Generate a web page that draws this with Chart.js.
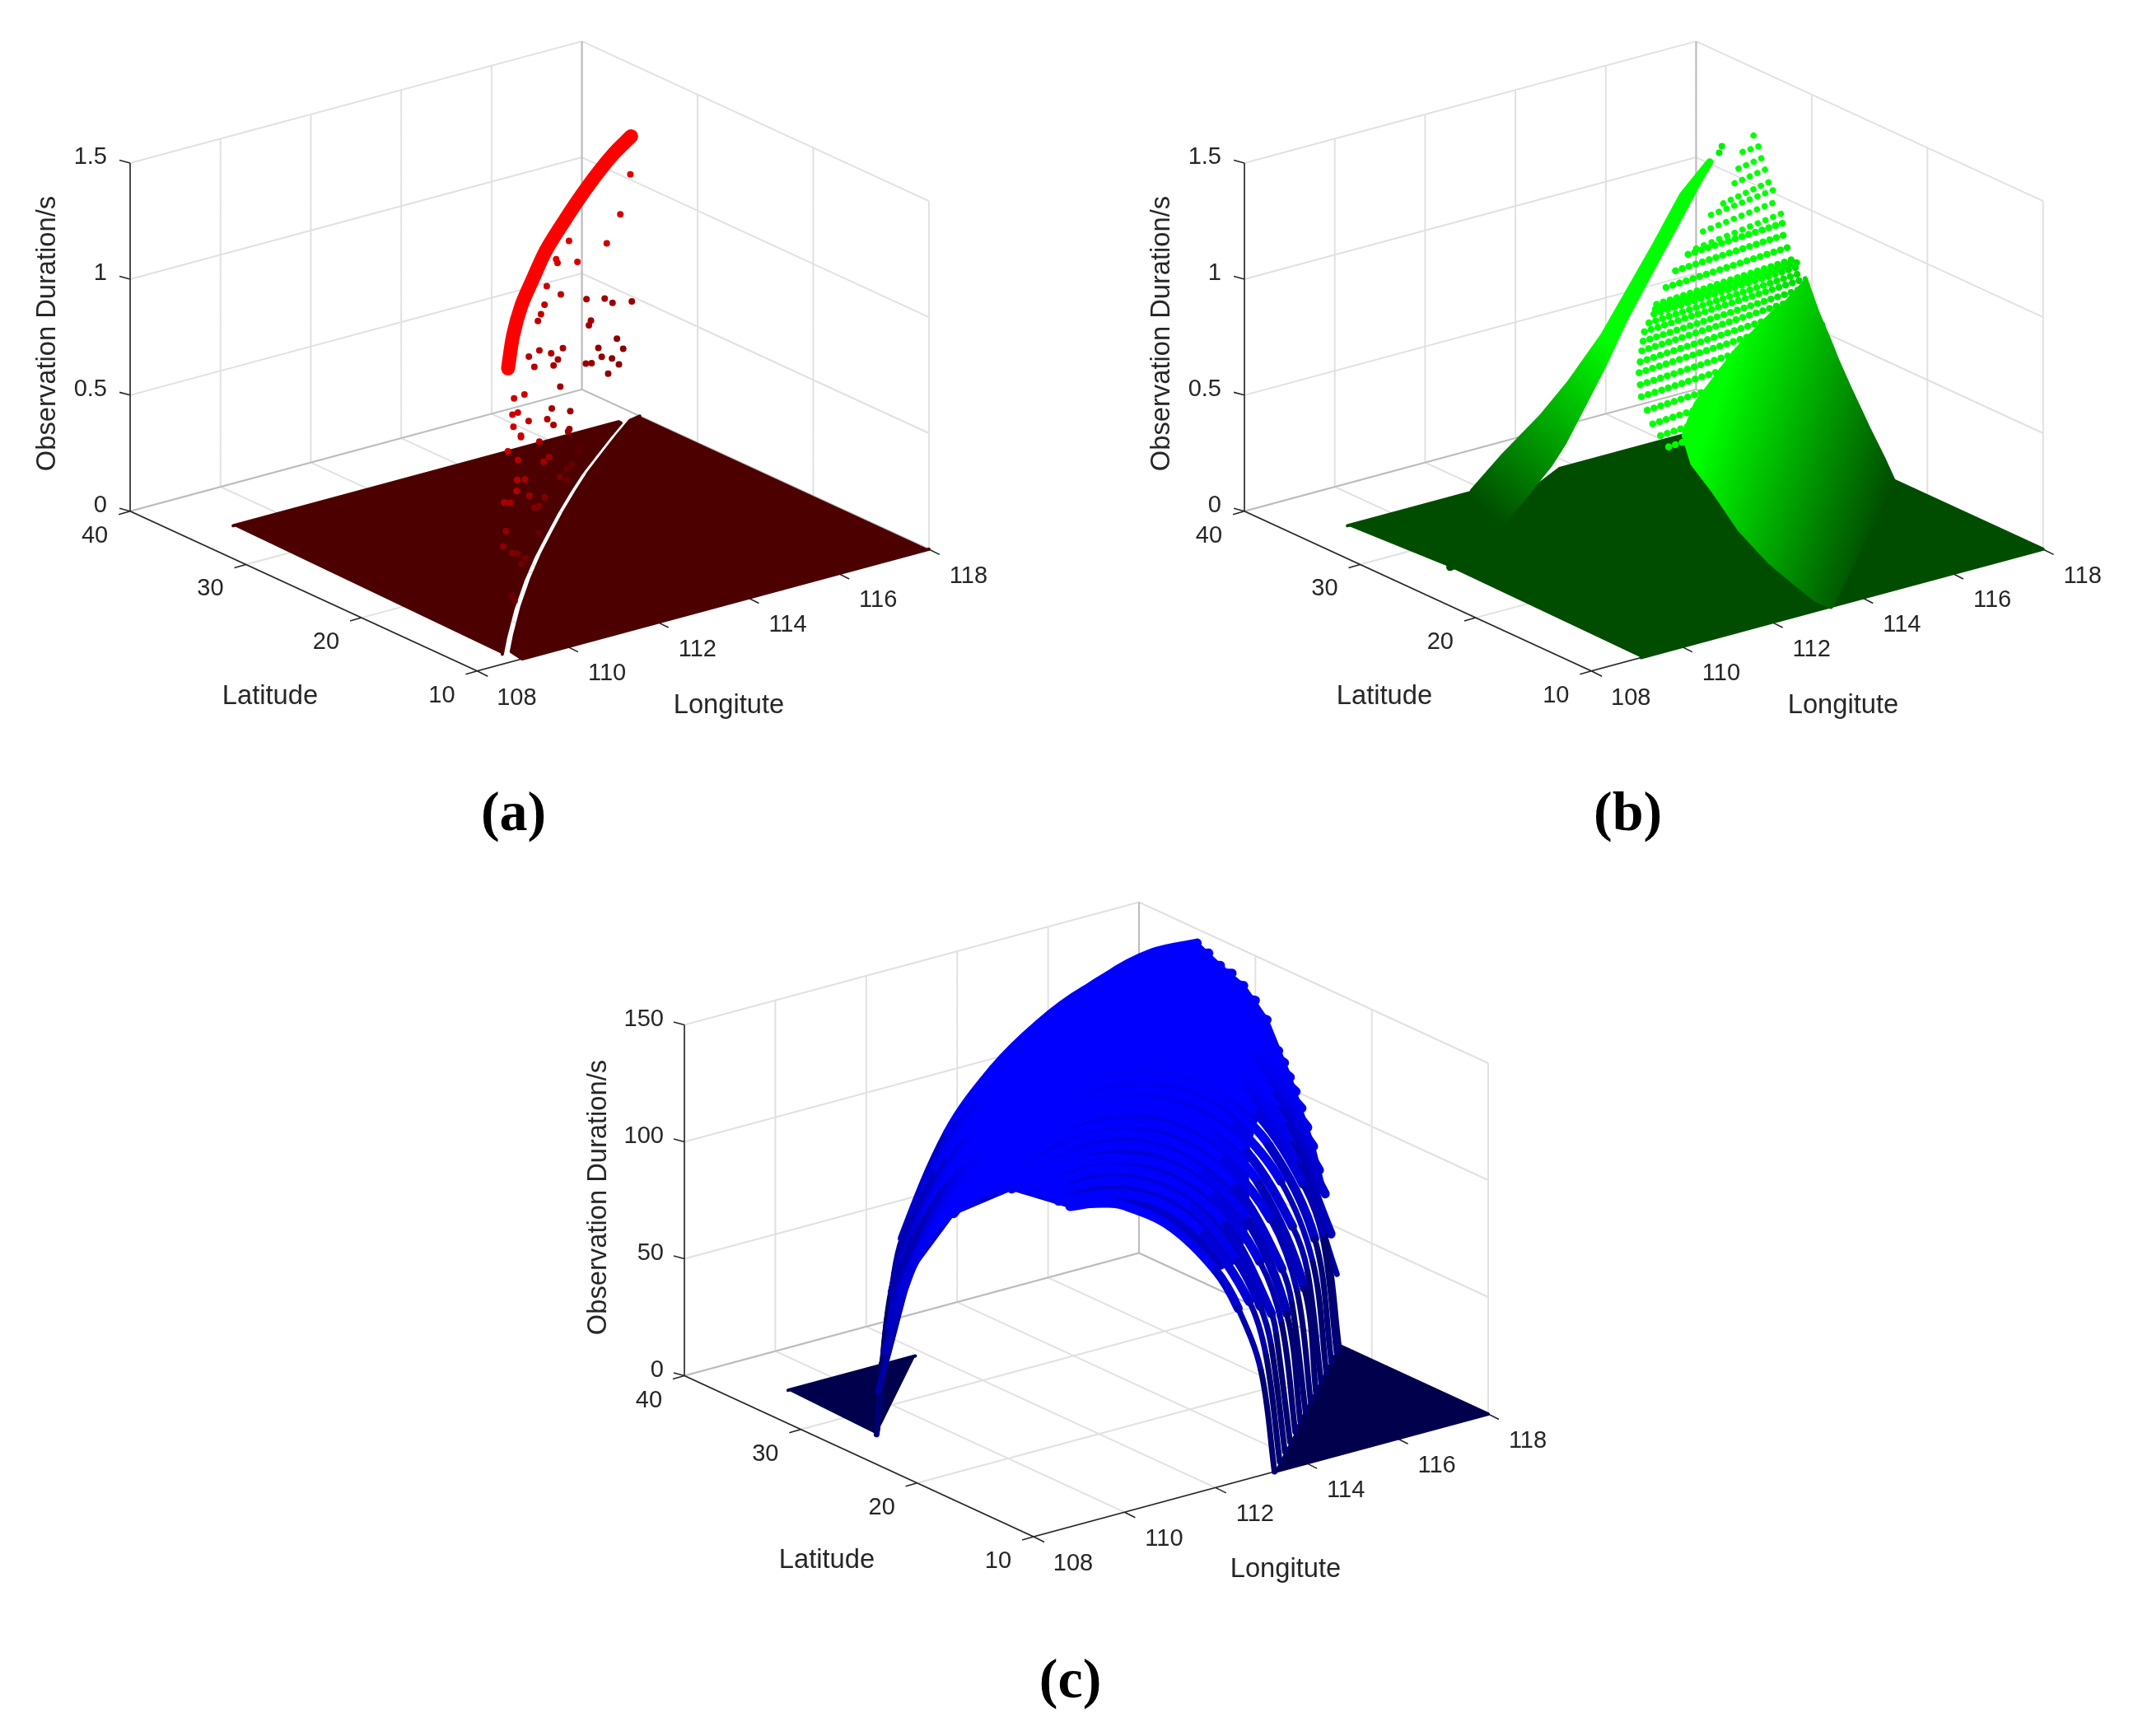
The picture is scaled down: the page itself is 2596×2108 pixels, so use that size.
<!DOCTYPE html>
<html>
<head>
<meta charset="utf-8">
<title>Observation duration</title>
<script src="https://cdn.jsdelivr.net/npm/chart.js@4/dist/chart.umd.js"></script>
<style>
  html, body { margin: 0; background: #fff; }
  canvas { position: absolute; display: block; }
</style>
</head>
<body>
<canvas id="panel-a" width="1280" height="1050" style="left:0;top:0"></canvas>
<canvas id="panel-b" width="1243" height="1050" style="left:1353px;top:0"></canvas>
<canvas id="panel-c" width="1280" height="1059" style="left:676px;top:1049px"></canvas>
<script>
// ======== Axes ========
const lonTicks = [108, 110, 112, 114, 116, 118];
const latTicks = [10, 20, 30, 40];
const shortDurTicks = [0, 0.5, 1, 1.5];
const longDurTicks = [0, 50, 100, 150];

// ======== Panel (a) ========
const aFloorLeftLon = [109, 117.53, 117.53, 116.91, 116.17, 115.43, 114.69, 113.9, 113.1, 112.27, 111.38, 110.37, 109.4, 108.86];
const aFloorLeftLat = [35, 35, 34.79, 33.44, 31.76, 30.07, 28.23, 26.2, 24.06, 21.81, 19.25, 16.17, 13.02, 11.19];
const aFloorRightLon = [118, 117.73, 117.11, 116.37, 115.63, 114.89, 114.1, 113.3, 112.47, 111.58, 110.57, 109.6, 109.06, 109.0, 118];
const aFloorRightLat = [35, 34.79, 33.44, 31.76, 30.07, 28.23, 26.2, 24.06, 21.81, 19.25, 16.17, 13.02, 11.19, 10, 10];
const aArcLon = [108.95, 110.01, 111.05, 112.03, 113.05, 114.1, 115.07, 116.16, 116.98, 117.71];
const aArcLat = [11.04, 14.75, 18.08, 20.9, 23.78, 26.44, 28.83, 31.39, 33.19, 34.61];
const aArcDur = [1.23, 1.23, 1.23, 1.23, 1.23, 1.23, 1.23, 1.23, 1.23, 1.23];
const aDotLon = [117.81, 116.95, 116.44, 115.43, 114.69, 114.6, 114.91, 114.38, 114.96, 116.44, 116.85, 117.18, 117.85, 114.42, 114.08, 113.83, 115.99, 115.82, 116.86, 115.97, 116.64, 114.41, 113.31, 113.74, 112.98, 115.75, 116.19, 114, 112.74, 113.76, 114.97, 115.06, 116.11, 115.68, 113.56, 110.78, 110.52, 112.43, 113.31, 110.14, 110, 110.67, 111.69, 111.95, 109.65, 112.75, 109.48, 109.72, 110.9, 112.66, 109.11, 109.69, 111.05, 111.62, 115.42, 114.32, 114.11, 113.14, 113.78, 109.43, 110.11, 109.08, 110.31, 111.67, 108.92, 109.2, 111.22, 111.33, 109.12, 111.78, 108.97, 109.54, 110, 110.34, 110.11, 109.22, 109.24];
const aDotLat = [35.07, 32.58, 31.76, 31.08, 29.3, 28.83, 28.32, 28.9, 29.95, 33.51, 33.54, 34.15, 35.1, 29.25, 28.23, 27.52, 31.37, 30.88, 32.52, 30.65, 31.12, 27.62, 25.36, 26.02, 24.98, 29.5, 30.33, 26.45, 23.57, 25.89, 27.82, 27.68, 29.42, 28.67, 24.53, 16.77, 16.65, 20.85, 22.69, 14.84, 14.76, 15.98, 18.35, 18.83, 13.31, 20.58, 12, 12.93, 15.95, 20.34, 11.68, 13.07, 16.16, 17.91, 30.19, 26.5, 26.13, 22.94, 24.81, 12.12, 14.11, 10.8, 14.51, 18.5, 11.25, 11.84, 17.63, 17.67, 11.89, 19.45, 11.54, 12.98, 14.35, 14.97, 14.4, 11.78, 11.61];
const aDotDur = [1.05, 0.98, 0.9, 0.98, 0.98, 0.98, 0.98, 0.89, 0.8, 0.62, 0.6, 0.55, 0.5, 0.8, 0.8, 0.8, 0.6, 0.6, 0.45, 0.5, 0.45, 0.65, 0.75, 0.7, 0.75, 0.5, 0.45, 0.65, 0.75, 0.65, 0.55, 0.55, 0.45, 0.45, 0.6, 0.89, 0.89, 0.65, 0.55, 0.89, 0.89, 0.8, 0.7, 0.65, 0.89, 0.55, 0.89, 0.85, 0.7, 0.55, 0.85, 0.75, 0.6, 0.55, 0.1, 0.18, 0.18, 0.27, 0.18, 0.7, 0.62, 0.7, 0.53, 0.36, 0.65, 0.62, 0.36, 0.36, 0.5, 0.18, 0.45, 0.36, 0.3, 0.25, 0.25, 0.22, 0.2];

// ======== Panel (b) ========
const bFloorLeftLon = [109, 111.79, 109.17];
const bFloorLeftLat = [35, 35, 26.8];
const bFloorMidLon = [109.17, 109.54, 110.98, 112.35, 113.7, 116.45, 115.71, 115.18, 114.38, 113.81, 113.51, 113.3, 113.3, 109.1];
const bFloorMidLat = [26.8, 27.05, 29.87, 32.88, 35, 35, 31.34, 27.5, 22.11, 17.27, 13.81, 11.2, 10, 10];
const bFloorRightLon = [113.3, 118, 118];
const bFloorRightLat = [10, 10, 23];
const bRidgeLon = [111.79, 112.45, 113.33, 113.93, 114.66, 115.25, 115.84, 116.43, 117.02, 116.29, 115.77, 115.18, 114.6, 114.15, 113.71, 113.27, 112.96, 112.35, 110.98, 109.54, 109.17];
const bRidgeLat = [35, 35, 35, 35, 35, 35, 35, 35, 35, 33, 33, 33, 33, 33, 33, 33, 33, 32.88, 29.87, 27.05, 26.8];
const bRidgeDur = [0, 0.112, 0.243, 0.353, 0.515, 0.684, 0.854, 1.035, 1.146, 1.16, 0.998, 0.817, 0.635, 0.47, 0.327, 0.185, 0.106, 0, 0, 0, 0];
const bHumpLon = [118, 118, 118, 118, 118, 118, 118, 118, 118, 113.3, 113.3, 113.51, 113.81, 114.38, 115.18, 115.71, 116.45, 115.44, 116.35, 117.25];
const bHumpLat = [30.57, 30.09, 29.5, 28.68, 27.74, 26.79, 25.14, 23.85, 23, 10, 11.2, 13.81, 17.27, 22.11, 27.5, 31.34, 35, 30, 30, 30];
const bHumpDur = [0.694, 0.635, 0.567, 0.491, 0.396, 0.312, 0.174, 0.074, 0, 0, 0, 0, 0, 0, 0, 0, 0, 0.302, 0.489, 0.618];
const bRowLat = [34.57, 34.57, 34.15, 33.75, 33.4, 33.28, 32.92, 32.5, 32.34, 31.98, 31.63, 31.27, 31.15, 31.03, 30.8, 30.57, 30.33, 30.09, 29.8, 29.5, 29.09, 28.68, 28.21, 27.74, 27.26, 26.79];
const bRowLonStart = [117.88, 117.64, 117.44, 117.25, 116.91, 116.61, 116.34, 116.08, 115.86, 115.49, 115.19, 114.89, 114.83, 114.77, 114.6, 114.44, 114.35, 114.26, 114.15, 114.05, 113.97, 113.89, 113.9, 113.9, 113.95, 114.01];
const bRowDurStart = [1.225, 1.167, 1.115, 1.071, 1.01, 0.979, 0.93, 0.88, 0.87, 0.827, 0.779, 0.73, 0.715, 0.7, 0.676, 0.652, 0.621, 0.59, 0.555, 0.52, 0.482, 0.444, 0.396, 0.348, 0.306, 0.265];
const bRowDurEnd = [1.201, 1.172, 1.135, 1.097, 1.052, 1.014, 0.975, 0.932, 0.895, 0.856, 0.811, 0.767, 0.752, 0.737, 0.715, 0.694, 0.664, 0.635, 0.601, 0.567, 0.529, 0.491, 0.443, 0.396, 0.354, 0.312];
const bDotLon = [117.29, 117.23];
const bDotLat = [35, 35];
const bDotDur = [1.2, 1.175];

// ======== Panel (c) ========
const cFloorLeftLon = [109, 111.05, 108.9];
const cFloorLeftLat = [35, 35, 27];
const cFloorRightLon = [113.3, 118, 118, 117, 116.26, 114.78];
const cFloorRightLat = [10, 10, 22.7, 20, 18, 14];
const cWedgeLon = [108.9, 111.05, 111.8];
const cWedgeLat = [27, 35, 35];
const cBaseLon = [112, 113, 114, 115, 116, 117, 118, 118, 118, 118, 118, 118, 118, 116, 115, 114, 113, 112, 111, 110, 108.8, 108.8, 108.8, 108.8, 108.8];
const cBaseLat = [35, 35, 35, 35, 35, 35, 35, 33, 31, 29, 27, 25, 24, 22, 19, 15, 12, 10, 10, 10, 10, 15, 20, 24, 25];
const cBaseDur = [60, 88, 112, 128, 140, 145, 144, 139, 135, 125, 105, 80, 62, 111, 107, 92, 87, 93, 117, 131, 137, 133, 111, 75, 60];
const cRowLat = [35, 34, 33, 32, 31, 30, 29, 28, 27.5, 27, 26.5, 26, 25.5, 25, 24.5, 24, 23.5, 23, 22.5, 22, 21, 20, 19, 18, 17, 16, 15, 14, 13, 12, 11, 10];
const cRowLon = [
  [111.05, 111.5, 112, 113, 114, 115, 116, 117, 118],
  [110.79, 111.09, 112, 113, 114, 115, 116, 117, 118],
  [110.52, 110.82, 111, 112, 113, 114, 115, 116, 117, 118],
  [110.25, 110.55, 111, 112, 113, 114, 115, 116, 117, 118],
  [109.98, 110.28, 111, 112, 113, 114, 115, 116, 117, 118],
  [109.71, 110.01, 111, 112, 113, 114, 115, 116, 117, 118],
  [109.44, 109.74, 110, 111, 112, 113, 114, 115, 116, 117, 118],
  [109.17, 109.47, 110, 111, 112, 113, 114, 115, 116, 117, 118],
  [109.04, 109.34, 110, 111, 112, 113, 114, 115, 116, 117, 118],
  [108.9, 109.2, 110, 111, 112, 113, 114, 115, 116, 117, 118],
  [108.8, 110, 111, 112, 113, 114, 115, 116, 117, 118],
  [108.8, 110, 111, 112, 113, 114, 115, 116, 117, 118],
  [108.8, 110, 111, 112, 113, 114, 115, 116, 117, 118],
  [108.8, 110, 111, 112, 113, 114, 115, 116, 117, 118],
  [108.8, 110, 111, 112, 113, 114, 115, 116, 117, 118],
  [108.8, 110, 111, 112, 113, 114, 115, 116, 117, 118],
  [108.8, 110, 111, 112, 113, 114, 115, 116, 117, 118],
  [108.8, 110, 111, 112, 113, 114, 115, 116, 117, 118],
  [108.8, 110, 111, 112, 113, 114, 115, 116, 117, 117.6, 117.92],
  [108.8, 110, 111, 112, 113, 114, 115, 116, 117, 117.44, 117.74],
  [108.8, 110, 111, 112, 113, 114, 115, 116, 117, 117.37],
  [108.8, 110, 111, 112, 113, 114, 115, 116, 116.7, 117],
  [108.8, 110, 111, 112, 113, 114, 115, 116, 116.33, 116.63],
  [108.8, 110, 111, 112, 113, 114, 115, 116, 116.26],
  [108.8, 110, 111, 112, 113, 114, 115, 115.59, 115.89],
  [108.8, 110, 111, 112, 113, 114, 115, 115.22, 115.52],
  [108.8, 110, 111, 112, 113, 114, 114.85, 115.15],
  [108.8, 110, 111, 112, 113, 114, 114.48, 114.78],
  [108.8, 110, 111, 112, 113, 114, 114.11, 114.41],
  [108.8, 110, 111, 112, 113, 113.5, 113.74, 114.04],
  [108.8, 110, 111, 112, 113, 113.37, 113.67],
  [108.8, 109.5, 110, 111, 112, 112.5, 113, 113.3]
];
const cRowDur = [
  [0, 30, 60, 88, 112, 128, 140, 145, 144],
  [0, 40, 78, 106, 126, 138, 145, 146, 142],
  [0, 45, 59, 99, 121, 135, 144, 147, 145, 139],
  [0, 46, 73, 106, 126, 139, 145, 147, 144, 138],
  [0, 47, 85, 114, 131, 141, 146, 147, 142, 135],
  [0, 48, 95, 120, 135, 143, 147, 145, 139, 131],
  [0, 48, 65, 103, 125, 138, 145, 147, 144, 136, 125],
  [0, 48, 78, 110, 129, 141, 146, 147, 142, 131, 114],
  [0, 48, 84, 114, 131, 142, 147, 147, 141, 129, 110],
  [0, 48, 89, 117, 133, 143, 147, 146, 139, 126, 105],
  [20, 94, 120, 135, 144, 147, 145, 137, 123, 100],
  [38, 99, 123, 137, 145, 147, 144, 135, 120, 94],
  [50, 103, 126, 139, 146, 147, 143, 133, 116, 87],
  [60, 107, 128, 140, 146, 147, 142, 131, 112, 80],
  [68, 110, 130, 141, 147, 147, 141, 128, 108, 71],
  [75, 114, 132, 142, 147, 146, 139, 125, 103, 62],
  [81, 117, 134, 143, 147, 145, 137, 122, 97, 46],
  [87, 120, 136, 144, 147, 144, 135, 119, 91, 30],
  [92, 123, 138, 145, 147, 143, 133, 115, 84, 50, 0],
  [97, 126, 139, 146, 147, 142, 130, 111, 76, 50, 0],
  [105, 130, 141, 146, 145, 138, 124, 100, 55, 0],
  [111, 133, 142, 145, 142, 133, 116, 87, 49, 0],
  [117, 135, 143, 144, 139, 127, 107, 70, 49, 0],
  [123, 138, 144, 143, 136, 121, 96, 46, 0],
  [127, 140, 143, 140, 131, 113, 83, 49, 0],
  [130, 140, 142, 137, 125, 104, 64, 48, 0],
  [133, 140, 140, 133, 118, 92, 48, 0],
  [135, 140, 137, 128, 110, 77, 48, 0],
  [136, 139, 134, 122, 100, 57, 47, 0],
  [137, 137, 130, 115, 87, 65, 47, 0],
  [137, 134, 125, 106, 72, 47, 0],
  [137, 135, 131, 117, 93, 74, 45, 0]
];

// ======== Projection ========
// MATLAB view of the box, in canvas pixels: corner lon 108 / lat 10 / duration 0 and the three box edges
const corner = { x: 579, y: 817 };
const lonEdge = { x: 552, y: -149 };
const latEdge = { x: -424, y: -195.5 };
const durEdge = 426;

function project(lon, lat, dur, durMax) {
  const a = (lon - 108) / 10;
  const b = (lat - 10) / 30;
  return {
    x: corner.x + a * lonEdge.x + b * latEdge.x,
    y: corner.y + a * lonEdge.y + b * latEdge.y - (dur / durMax) * durEdge,
    dur
  };
}

function shade(channel, dur, top) {
  const v = Math.round(255 * (0.3 + 0.7 * Math.min(1, dur / top)));
  return channel === 'r' ? `rgb(${v},0,0)` : channel === 'g' ? `rgb(0,${v},0)` : `rgb(0,0,${v})`;
}

const gap = { x: null, y: null };

// ======== Box ========
function boxDatasets(durTicks) {
  const durMax = durTicks[durTicks.length - 1];
  const gridPts = [];
  const edgePts = [];
  const axisPts = [];
  const seg = (list, p, q) => list.push(p, q, gap);

  lonTicks.forEach(lon => {
    seg(gridPts, project(lon, 10, 0, durMax), project(lon, 40, 0, durMax));
    seg(gridPts, project(lon, 40, 0, durMax), project(lon, 40, durMax, durMax));
  });
  latTicks.forEach(lat => {
    seg(gridPts, project(108, lat, 0, durMax), project(118, lat, 0, durMax));
    seg(gridPts, project(118, lat, 0, durMax), project(118, lat, durMax, durMax));
  });
  durTicks.forEach(dur => {
    seg(gridPts, project(108, 40, dur, durMax), project(118, 40, dur, durMax));
    seg(gridPts, project(118, 40, dur, durMax), project(118, 10, dur, durMax));
  });
  seg(edgePts, project(108, 40, 0, durMax), project(118, 40, 0, durMax));
  seg(edgePts, project(118, 40, 0, durMax), project(118, 10, 0, durMax));
  seg(edgePts, project(118, 40, 0, durMax), project(118, 40, durMax, durMax));

  seg(axisPts, project(108, 40, 0, durMax), project(108, 40, durMax, durMax));
  seg(axisPts, project(108, 40, 0, durMax), project(108, 10, 0, durMax));
  seg(axisPts, project(108, 10, 0, durMax), project(118, 10, 0, durMax));
  const tick = (p, dx, dy) => seg(axisPts, p, { x: p.x + dx, y: p.y + dy });
  lonTicks.forEach(lon => tick(project(lon, 10, 0, durMax), 13, 6.5));
  latTicks.forEach(lat => tick(project(108, lat, 0, durMax), -14, 4));
  durTicks.forEach(dur => tick(project(108, 40, dur, durMax), -13, -3.5));

  return [
    lineSet(gridPts, { borderColor: '#e1e1e1', borderWidth: 2 }),
    lineSet(edgePts, { borderColor: '#bcbcbc', borderWidth: 2 }),
    lineSet(axisPts, { borderColor: '#262626', borderWidth: 1.6 })
  ];
}

function lineSet(data, extra) {
  return Object.assign({ data, pointRadius: 0, borderCapStyle: 'butt', tension: 0, fill: false, clip: false }, extra);
}

function polygon(lons, lats, durs, durMax, color, width) {
  const data = lons.map((lon, i) => project(lon, lats[i], durs ? durs[i] : 0, durMax));
  return lineSet(data, {
    fill: 'shape',
    backgroundColor: color,
    borderColor: color,
    borderWidth: width,
    borderJoinStyle: 'round',
    borderCapStyle: 'round'
  });
}

function dotSet(lons, lats, durs, durMax, colors, radius) {
  return {
    data: lons.map((lon, i) => project(lon, lats[i], durs[i], durMax)),
    showLine: false,
    pointRadius: radius,
    pointBorderWidth: 0,
    pointBackgroundColor: colors,
    clip: false
  };
}

// ======== Text ========
const tickFont = '29px "Liberation Sans", Arial, sans-serif';
const labelFont = '32.7px "Liberation Sans", Arial, sans-serif';
const captionFont = 'bold 68px "Liberation Serif", serif';

function textPlugin(durTicks, caption, captionY, durLabelX) {
  const durMax = durTicks[durTicks.length - 1];
  return {
    id: 'boxText',
    afterDatasetsDraw(chart) {
      const { ctx, scales } = chart;
      const at = p => ({ x: scales.x.getPixelForValue(p.x), y: scales.y.getPixelForValue(p.y) });
      const put = (text, x, y, align) => {
        ctx.textAlign = align || 'center';
        ctx.fillText(text, x, y);
      };
      ctx.save();
      ctx.fillStyle = '#262626';
      ctx.textBaseline = 'middle';
      ctx.font = tickFont;
      lonTicks.forEach(lon => {
        const p = at(project(lon, 10, 0, durMax));
        put(String(lon), p.x + 48, p.y + 33);
      });
      latTicks.forEach(lat => {
        const p = at(project(108, lat, 0, durMax));
        put(String(lat), p.x - 43, p.y + 30);
      });
      durTicks.forEach(dur => {
        const p = at(project(108, 40, dur, durMax));
        put(String(dur), 130, p.y - 7, 'right');
      });
      ctx.font = labelFont;
      put('Latitude', 328, 846);
      put('Longitute', 885, 857);
      ctx.save();
      ctx.translate(durLabelX, 405);
      ctx.rotate(-Math.PI / 2);
      put('Observation Duration/s', 0, 0);
      ctx.restore();
      ctx.font = captionFont;
      ctx.fillStyle = '#000';
      put(caption, 623.6, captionY);
      ctx.restore();
    }
  };
}

// ======== Charts ========
function makeChart(id, datasets, durTicks, caption, captionY, durLabelX) {
  const canvas = document.getElementById(id);
  // painter's order: first in the list is drawn first
  datasets.forEach((d, i) => { d.order = datasets.length - i; });
  return new Chart(canvas, {
    type: 'line',
    data: { datasets },
    options: {
      responsive: false,
      animation: false,
      events: [],
      layout: { padding: 0 },
      plugins: { legend: { display: false }, tooltip: { enabled: false } },
      scales: {
        x: { type: 'linear', display: false, min: 0, max: canvas.width },
        y: { type: 'linear', display: false, min: 0, max: canvas.height, reverse: true }
      }
    },
    plugins: [textPlugin(durTicks, caption, captionY, durLabelX)]
  });
}

function gradient(id, x0, y0, x1, y1, stops) {
  const g = document.getElementById(id).getContext('2d').createLinearGradient(x0, y0, x1, y1);
  stops.forEach(([at, color]) => g.addColorStop(at, color));
  return g;
}

// panel a
const aTop = 1.5;
const darkRed = 'rgb(77,0,0)';
makeChart('panel-a', [
  ...boxDatasets(shortDurTicks),
  polygon(aFloorLeftLon, aFloorLeftLat, null, aTop, darkRed, 4),
  polygon(aFloorRightLon, aFloorRightLat, null, aTop, darkRed, 4),
  dotSet(aDotLon, aDotLat, aDotDur, aTop, aDotDur.map(d => shade('r', d, 1.25)), 4),
  lineSet(aArcLon.map((lon, i) => project(lon, aArcLat[i], aArcDur[i], aTop)), {
    borderColor: '#ff0000',
    borderWidth: 17,
    tension: 0.3,
    borderCapStyle: 'round',
    borderJoinStyle: 'round'
  })
], shortDurTicks, '(a)', 990, 58);

// panel b
const bTop = 1.5;
const darkGreen = 'rgb(0,77,0)';
const humpShade = gradient('panel-b', 948, 579, 725, 504, [[0, 'rgb(0,77,0)'], [1, 'rgb(0,255,0)']]);
const ridgeShade = gradient('panel-b', 440, 610, 610, 420, [[0, 'rgb(0,77,0)'], [1, 'rgb(0,255,0)']]);
makeChart('panel-b', [
  ...boxDatasets(shortDurTicks),
  polygon(bFloorLeftLon, bFloorLeftLat, null, bTop, darkGreen, 4),
  polygon(bFloorMidLon, bFloorMidLat, null, bTop, darkGreen, 4),
  polygon(bFloorRightLon, bFloorRightLat, null, bTop, darkGreen, 4),
  polygon(bRidgeLon, bRidgeLat, bRidgeDur, bTop, ridgeShade, 9),
  polygon(bHumpLon, bHumpLat, bHumpDur, bTop, humpShade, 6),
  ...bRowLat.map((lat, i) => lineSet([
    project(bRowLonStart[i], lat, bRowDurStart[i], bTop),
    project(118, lat, bRowDurEnd[i], bTop)
  ], {
    borderColor: humpShade,
    borderWidth: i < 8 ? 7.5 : 8.5,
    borderCapStyle: 'round',
    borderDash: i < 8 ? [0.1, 10] : [0.1, 8.5]
  })),
  dotSet(bDotLon, bDotLat, bDotDur, bTop, '#00f000', 4)
], shortDurTicks, '(b)', 990, 58);

// panel c
const cTop = 150;
const darkBlue = 'rgb(0,0,77)';
const baseShade = gradient('panel-c', 0, 200, 0, 640, [[0, 'rgb(0,0,255)'], [1, 'rgb(0,0,150)']]);
makeChart('panel-c', [
  ...boxDatasets(longDurTicks),
  polygon(cFloorLeftLon, cFloorLeftLat, null, cTop, darkBlue, 4),
  polygon(cFloorRightLon, cFloorRightLat, null, cTop, darkBlue, 4),
  polygon(cWedgeLon, cWedgeLat, null, cTop, darkBlue, 4),
  polygon(cBaseLon, cBaseLat, cBaseDur, cTop, baseShade, 4),
  ...cRowLat.map((lat, i) => {
    const pts = cRowLon[i].map((lon, j) => project(lon, lat, cRowDur[i][j], cTop));
    const midDur = s => (pts[s.p0DataIndex].dur + pts[s.p1DataIndex].dur) / 2;
    return lineSet(pts, {
      borderColor: 'rgb(0,0,200)',
      borderWidth: 11,
      tension: 0.35,
      borderCapStyle: 'round',
      borderJoinStyle: 'round',
      segment: {
        borderColor: s => shade('b', midDur(s), 115),
        borderWidth: s => (midDur(s) < 70 ? 7 : 11)
      }
    });
  })
], longDurTicks, '(c)', 994, 51);
</script>
</body>
</html>
